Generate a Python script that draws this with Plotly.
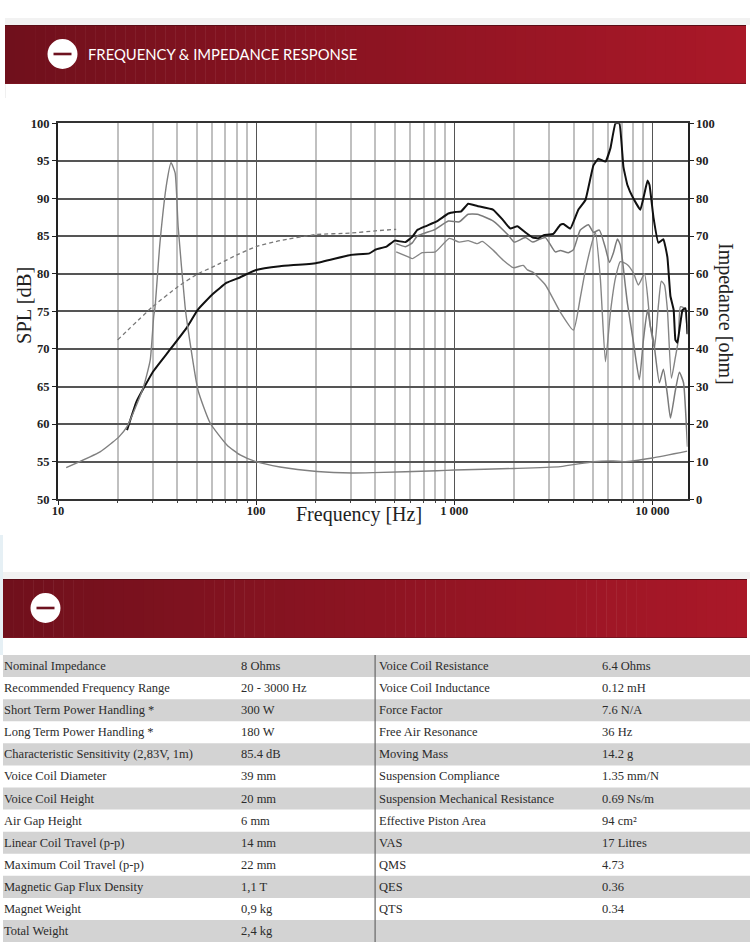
import plotly.graph_objects as go

W, H = 750, 942

# ---- chart data (frequency in Hz, level in dB, impedance in ohm) ----
spl_f = [22.3, 24.9, 30.2, 36, 44.6, 50.7, 60.4, 71, 82.7, 100, 132, 200, 300, 373, 400, 455, 500, 566, 614, 650, 714,
         820, 933, 1010, 1084, 1176, 1306, 1574, 1766, 1919, 2080, 2284, 2489, 2655, 2812, 3162, 3428, 3556, 3855,
         4227, 4592, 5037, 5336, 5794, 6140, 6506, 6813, 7138, 7475, 8017, 8690, 9120, 9446, 9666, 10120, 10720,
         11360, 11900, 12330, 12800, 13060, 13360, 14190, 14690, 15030]
spl_db = [59.2, 63, 67, 69.6, 72.8, 75.2, 77.3, 78.8, 79.5, 80.5, 81, 81.4, 82.5, 82.7, 83.2, 83.6, 84.4, 84.2, 84.9, 85.8, 86.3,
          87, 88, 88.2, 88.3, 89.3, 89, 88.5, 87.1, 86, 86.3, 85.5, 84.8, 84.7, 85.1, 85.3, 86.5, 86.6, 86,
          88.5, 89.8, 94.4, 95.3, 94.9, 96.7, 100, 100, 94.2, 91.8, 90, 88.5, 90.7, 92.4, 91.8, 87.5, 84.1,
          84.6, 82.2, 77, 75.2, 71.2, 70.8, 75.2, 75.4, 72]

upper_f = [509, 566, 614, 650, 802, 933, 1059, 1176, 1306, 1574, 1875, 2009, 2284, 2489, 2655, 2884, 3236, 3428, 3767,
           3994, 4325, 4753, 5037, 5395, 5794, 6070, 6358, 6658, 6890, 7305, 7475, 8017, 8590, 9007, 9446, 9780, 10120,
           10840, 11360, 11900, 12330, 13060, 13680, 14350, 14690, 15030]
upper_db = [84, 83.6, 84.1, 85, 85.9, 87, 86.9, 87.9, 87.9, 87, 85.1, 84.2, 84.8, 84.2, 84.5, 84.8, 82.9, 83.1, 82.8,
            83.2, 85.8, 86.5, 85.5, 85.8, 83.4, 81.5, 82.8, 84.6, 83.8, 78.3, 76.1, 70.9, 65.9, 71.2, 75.2, 72.9, 71.2,
            65.5, 67.3, 63.9, 60.8, 64.5, 66.9, 65.5, 61.9, 57]

lower_f = [509, 590, 614, 689, 802, 944, 1059, 1176, 1306, 1384, 1574, 1766, 1986, 2229, 2339, 2489, 2884, 3428, 3994,
           4325, 4592, 5037, 5155, 5458, 5794, 6140, 6506, 6890, 7475, 8017, 8500, 9120, 9780, 10240, 10720, 11090,
           11500, 11900, 12470, 13060, 13520, 13840, 14520, 15030]
lower_db = [82.9, 82.2, 82, 82.8, 82.9, 84.7, 84.2, 84.4, 84, 84.3, 83.1, 81.8, 80.8, 81.1, 80.5, 80.2, 78.5, 74.9, 72.5,
            76.8, 80.5, 84.8, 85.5, 79.4, 68.3, 74.9, 79.4, 81.6, 81.2, 80.1, 78.5, 80, 72.9, 70.1, 75.8, 79,
            78.5, 75.2, 66.1, 68.9, 71.2, 75.6, 75.4, 71.9]

dash_f = [20, 30, 40.4, 50.9, 60.5, 80, 100, 132, 200, 300, 400, 509]
dash_db = [71.2, 75.6, 78.3, 80, 80.9, 82.5, 83.6, 84.4, 85.2, 85.4, 85.7, 85.9]

imp_f = [11, 16.3, 18.7, 20.3, 22.3, 26.9, 29.2, 30.4, 30.9, 32.7, 35.4, 37.2, 39, 40.4, 43.8, 45.4, 50.9, 58.6, 71.4,
         83, 100, 132, 203, 305, 390, 820, 1000, 2000, 3428, 5037, 6358, 7138, 10000, 15000]
imp_ohm = [8.4, 12.6, 15, 16.6, 19.3, 29.6, 37, 48.6, 51.2, 68.2, 84.2, 89.5, 86.8, 72.5, 51.2, 45, 29, 20.3, 14.4,
           11.8, 10, 8.6, 7.4, 7, 7.1, 7.6, 7.8, 8.2, 8.7, 10, 10.2, 10, 11, 12.8]

major_ticks = [10, 100, 1000, 10000]
major_labels = ["10", "100", "1 000", "10 000"]
minor_ticks = [20, 30, 40, 50, 60, 70, 80, 90, 200, 300, 400, 500, 600, 700, 800, 900,
               2000, 3000, 4000, 5000, 6000, 7000, 8000, 9000]

title_text = "FREQUENCY & IMPEDANCE RESPONSE"

# ---- table ----
left_names = ["Nominal Impedance", "Recommended Frequency Range", "Short Term Power Handling *",
              "Long Term Power Handling *", "Characteristic Sensitivity (2,83V, 1m)", "Voice Coil Diameter",
              "Voice Coil Height", "Air Gap Height", "Linear Coil Travel (p-p)", "Maximum Coil Travel (p-p)",
              "Magnetic Gap Flux Density", "Magnet Weight", "Total Weight"]
left_values = ["8 Ohms", "20 - 3000 Hz", "300 W", "180 W", "85.4 dB", "39 mm", "20 mm", "6 mm", "14 mm", "22 mm",
               "1,1 T", "0,9 kg", "2,4 kg"]
right_names = ["Voice Coil Resistance", "Voice Coil Inductance", "Force Factor", "Free Air Resonance", "Moving Mass",
               "Suspension Compliance", "Suspension Mechanical Resistance", "Effective Piston Area", "VAS", "QMS",
               "QES", "QTS", ""]
right_values = ["6.4 Ohms", "0.12 mH", "7.6 N/A", "36 Hz", "14.2 g", "1.35 mm/N", "0.69 Ns/m", "94 cm²", "17 Litres",
                "4.73", "0.36", "0.34", ""]

SERIF = "Liberation Serif"


def px(x):
    return x / W


def py(y):
    return 1 - y / H


def rect(x0, y0, x1, y1, color):
    return dict(type="rect", xref="paper", yref="paper", x0=px(x0), x1=px(x1), y0=py(y0), y1=py(y1),
                fillcolor=color, line_width=0, layer="below")


def circle(cx, cy, r, color):
    return dict(type="circle", xref="paper", yref="paper", x0=px(cx - r), x1=px(cx + r), y0=py(cy - r), y1=py(cy + r),
                fillcolor=color, line_width=0, layer="above")


def mix(a, b, t):
    return "rgb(%d,%d,%d)" % tuple(round(a[i] + (b[i] - a[i]) * t) for i in range(3))


shapes = []
annotations = []


def banner(x0, y0, x1, y1, cx, cy):
    n = 74
    for i in range(n):
        t = i / (n - 1)
        a = x0 + (x1 - x0) * i / n
        b = x0 + (x1 - x0) * (i + 1) / n + 0.5
        shapes.append(rect(a, y0, min(b, x1), y1, mix((112, 16, 28), (170, 24, 40), t)))
    shapes.append(rect(x0, y0, x1, y0 + 1, "#5a0d16"))
    shapes.append(rect(x0, y1 - 1, x1, y1, "#7a1420"))
    shapes.append(circle(cx, cy, 15, "white"))
    shapes.append(dict(rect(cx - 9, cy - 1.3, cx + 9, cy + 1.3, "#6e1220"), layer="above"))


shapes.append(rect(5, 18, 750, 25, "#f2f2f2"))
shapes.append(rect(5, 84, 6, 98, "#f0f0f0"))
banner(5, 25, 746, 84, 62.5, 54)
shapes.append(rect(0, 535, 3, 655, "#e6f0f5"))
shapes.append(rect(3, 572, 750, 579, "#f2f2f2"))
banner(3, 579, 747, 638, 45.5, 608)

annotations.append(dict(text=title_text, xref="paper", yref="paper", x=px(86), y=py(54), xanchor="left",
                        yanchor="middle", showarrow=False, font=dict(family="Lato", size=14.8, color="#ffffff")))

# table
ROW_TOP, ROW_H = 655, 22.08
for i in range(len(left_names)):
    y0 = ROW_TOP + i * ROW_H
    if i % 2 == 0:
        shapes.append(rect(3, y0, 750, y0 + ROW_H, "#d3d3d3"))
    yc = y0 + ROW_H / 2
    for text, x in ((left_names[i], 2), (left_values[i], 239), (right_names[i], 377), (right_values[i], 600)):
        if text:
            annotations.append(dict(text=text, xref="paper", yref="paper", x=px(x), y=py(yc), xanchor="left",
                                    yanchor="middle", showarrow=False,
                                    font=dict(family=SERIF, size=12.5, color="#2b2b2b")))
shapes.append(dict(rect(374.5, 655, 375.7, 942, "#666666")))

# axis captions
annotations += [
    dict(text="Frequency [Hz]", xref="paper", yref="paper", x=px(359), y=py(514), xanchor="center", yanchor="middle",
         showarrow=False, font=dict(family=SERIF, size=20, color="#222222")),
    dict(text="SPL [dB]", xref="paper", yref="paper", x=px(24), y=py(306), xanchor="center", yanchor="middle",
         textangle=-90, showarrow=False, font=dict(family=SERIF, size=20.5, color="#222222")),
    dict(text="Impedance [ohm]", xref="paper", yref="paper", x=px(725), y=py(314), xanchor="center", yanchor="middle",
         textangle=90, showarrow=False, font=dict(family=SERIF, size=20, color="#222222")),
]

fig = go.Figure()
fig.add_trace(go.Scatter(x=imp_f, y=imp_ohm, yaxis="y2", mode="lines", name="Impedance",
                         line=dict(color="#808080", width=1.4, shape="spline", smoothing=0.5)))
fig.add_trace(go.Scatter(x=dash_f, y=dash_db, mode="lines", name="Simulated",
                         line=dict(color="#777777", width=1.3, dash="4px,3px", shape="spline", smoothing=0.5)))
fig.add_trace(go.Scatter(x=lower_f, y=lower_db, mode="lines", name="Off axis wide",
                         line=dict(color="#858585", width=1.4, shape="spline", smoothing=0.5)))
fig.add_trace(go.Scatter(x=upper_f, y=upper_db, mode="lines", name="Off axis",
                         line=dict(color="#7a7a7a", width=1.5, shape="spline", smoothing=0.5)))
fig.add_trace(go.Scatter(x=spl_f, y=spl_db, mode="lines", name="SPL",
                         line=dict(color="#111111", width=2, shape="spline", smoothing=0.3)))

tick_font = dict(family=SERIF, size=12.5, color="#222222", weight=700)
fig.update_layout(
    width=W, height=H, margin=dict(l=0, r=0, t=0, b=0, autoexpand=False), autosize=False,
    paper_bgcolor="white", plot_bgcolor="white", showlegend=False,
    shapes=shapes, annotations=annotations,
    xaxis=dict(type="log", range=[1, 4.177], domain=[px(58), px(687.5)], tickmode="array", automargin=False,
               tickvals=major_ticks, ticktext=major_labels, tickfont=tick_font, showgrid=True, gridcolor="#555555",
               gridwidth=1, ticks="outside", ticklen=4, tickcolor="#222222", showline=True, linecolor="#333333",
               linewidth=2, mirror=True, zeroline=False, anchor="y", ticklabelstandoff=-5,
               minor=dict(tickmode="array", tickvals=minor_ticks, showgrid=True, gridcolor="#c0c0c0", gridwidth=2,
                          ticks="outside", ticklen=2, tickcolor="#444444")),
    yaxis=dict(range=[50, 100], domain=[py(499.3), py(123.3)], tickmode="linear", tick0=50, dtick=5, automargin=False,
               tickfont=tick_font, showgrid=True, gridcolor="#555555", gridwidth=1.5, ticks="outside", ticklen=4,
               tickcolor="#222222", showline=True, linecolor="#222222", linewidth=2, zeroline=False),
    yaxis2=dict(range=[0, 100], overlaying="y", side="right", tickmode="linear", tick0=0, dtick=10, automargin=False,
                tickfont=tick_font, showgrid=False, ticks="outside", ticklen=4, tickcolor="#222222", showline=True,
                linecolor="#222222", linewidth=2, zeroline=False),
)

fig.write_html("out.html", config=dict(displayModeBar=False), post_script="document.body.style.margin='0';")
